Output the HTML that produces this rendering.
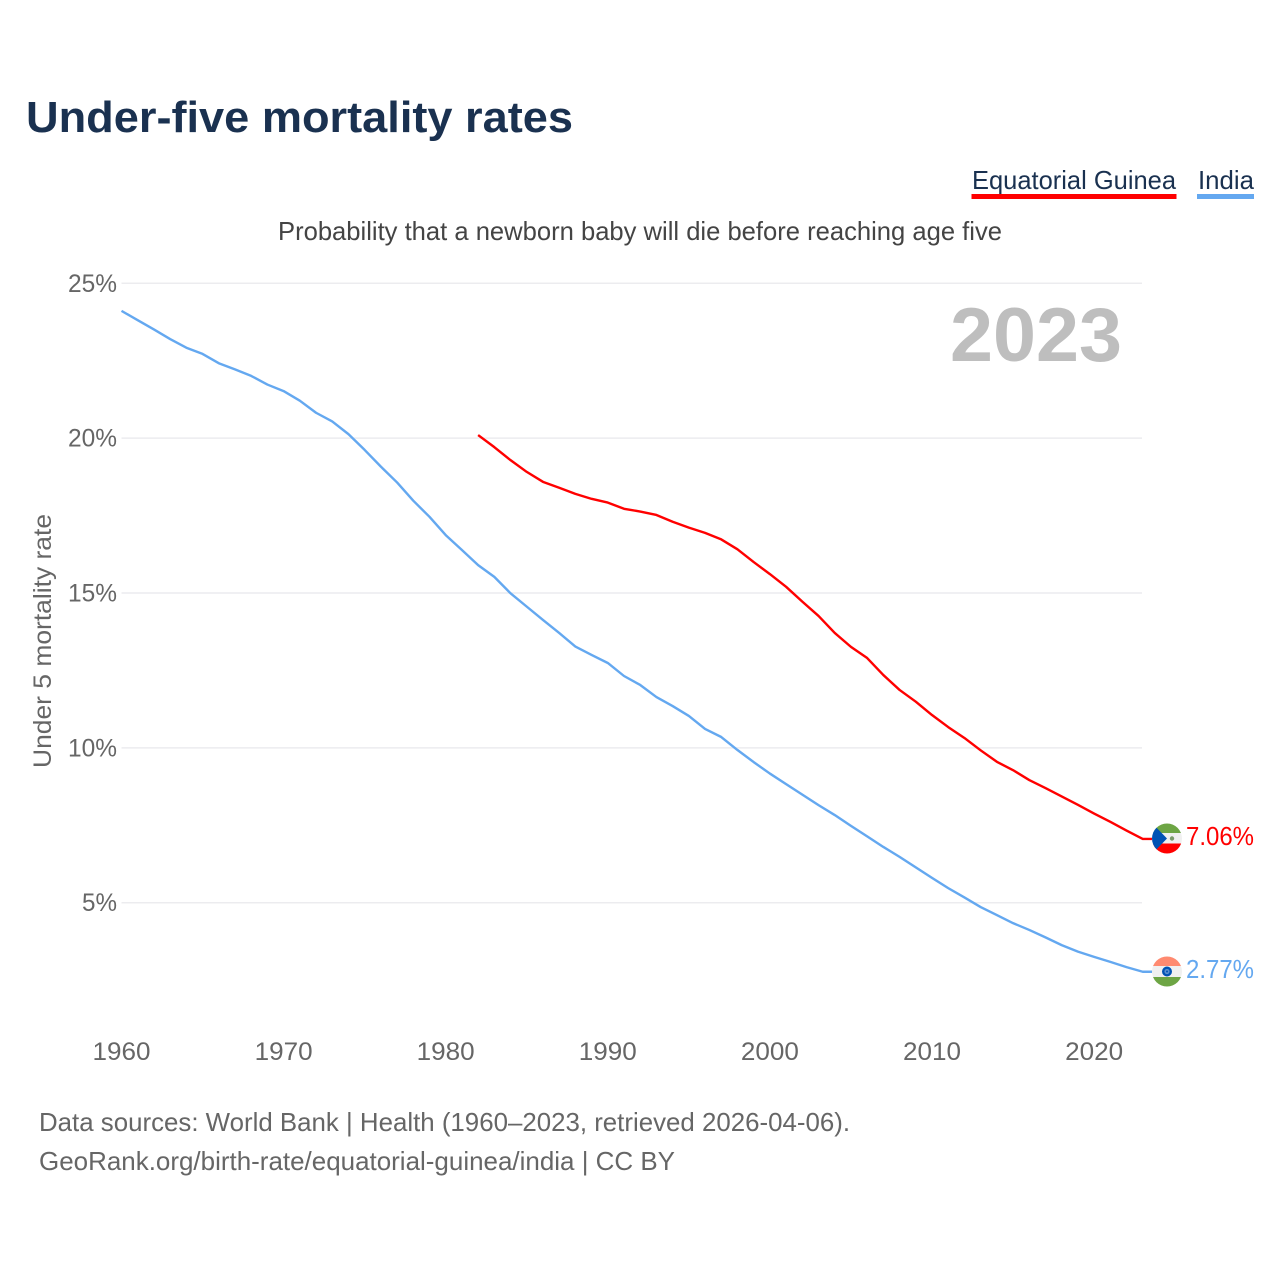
<!DOCTYPE html>
<html lang="en">
<head>
<meta charset="utf-8">
<title>Under-five mortality rates</title>
<style>
html,body{margin:0;padding:0;background:#fff;}
svg{display:block;font-family:"Liberation Sans",sans-serif;}
</style>
</head>
<body>
<svg id="chart" width="1280" height="1280" viewBox="0 0 1280 1280" xmlns="http://www.w3.org/2000/svg">
  <defs>
    <clipPath id="clip-gq"><circle cx="1167" cy="838.5" r="15"/></clipPath>
    <clipPath id="clip-in"><circle cx="1167" cy="971.5" r="15"/></clipPath>
  </defs>
  <rect width="1280" height="1280" fill="#fff"/>
  <text x="26" y="132" font-size="44" font-weight="700" fill="#1a3150" textLength="547" lengthAdjust="spacingAndGlyphs">Under-five mortality rates</text>

  <g>
    <text x="972" y="189" font-size="26" fill="#1a3150" textLength="204" lengthAdjust="spacingAndGlyphs">Equatorial Guinea</text>
    <rect x="971.5" y="194" width="205" height="5" fill="#ff0000"/>
  </g>
  <g>
    <text x="1198" y="189" font-size="26" fill="#1a3150" textLength="56" lengthAdjust="spacingAndGlyphs">India</text>
    <rect x="1197" y="194" width="57" height="5" fill="#64a8f0"/>
  </g>

  <text x="640" y="240" font-size="26" fill="#444" text-anchor="middle" textLength="724" lengthAdjust="spacingAndGlyphs">Probability that a newborn baby will die before reaching age five</text>
  <text x="1122" y="361" font-size="76" font-weight="700" fill="#bebebe" text-anchor="end" textLength="172" lengthAdjust="spacingAndGlyphs">2023</text>
  <text transform="translate(51,641) rotate(-90)" font-size="25" fill="#666" text-anchor="middle" textLength="254" lengthAdjust="spacingAndGlyphs">Under 5 mortality rate</text>

  <g id="grid"></g>
  <g id="yticks"></g>
  <g id="xticks"></g>
  <g id="series"></g>

  <g clip-path="url(#clip-gq)">
    <rect x="1152" y="823" width="30" height="10" fill="#6da544"/>
    <rect x="1152" y="833" width="30" height="10.5" fill="#f0f0f0"/>
    <rect x="1152" y="843.5" width="30" height="11" fill="#ff0000"/>
    <polygon points="1150,821 1150,856 1167,838.5" fill="#0052b4"/>
    <circle cx="1172" cy="838.5" r="2.2" fill="#7a9a6a"/>
  </g>
  <g clip-path="url(#clip-in)">
    <rect x="1152" y="956" width="30" height="10" fill="#ff8a70"/>
    <rect x="1152" y="966" width="30" height="11" fill="#f0f0f0"/>
    <rect x="1152" y="977" width="30" height="10" fill="#6da544"/>
    <circle cx="1167" cy="971.5" r="5" fill="#0052b4"/>
    <circle cx="1167" cy="971.5" r="2.6" fill="#5a8fd0"/>
    <circle cx="1167" cy="971.5" r="1" fill="#0052b4"/>
  </g>

  <g id="endlabels"></g>

  <text x="39" y="1131" font-size="26" fill="#666" textLength="811" lengthAdjust="spacingAndGlyphs">Data sources: World Bank | Health (1960–2023, retrieved 2026-04-06).</text>
  <text x="39" y="1170" font-size="26" fill="#666" textLength="636" lengthAdjust="spacingAndGlyphs">GeoRank.org/birth-rate/equatorial-guinea/india | CC BY</text>
</svg>
<script>
const yTicks = [5, 10, 15, 20, 25];
const xTicks = [1960, 1970, 1980, 1990, 2000, 2010, 2020];
const indiaStartYear = 1960;
const guineaStartYear = 1982;
const indiaValues = [24.11,23.81,23.51,23.2,22.92,22.72,22.42,22.22,22.01,21.73,21.52,21.21,20.82,20.54,20.13,19.62,19.08,18.57,17.98,17.46,16.87,16.39,15.9,15.52,14.99,14.56,14.13,13.71,13.27,13.0,12.74,12.32,12.03,11.64,11.35,11.03,10.61,10.35,9.93,9.54,9.17,8.83,8.49,8.15,7.83,7.48,7.14,6.8,6.48,6.14,5.8,5.47,5.17,4.86,4.6,4.34,4.12,3.88,3.63,3.42,3.25,3.09,2.92,2.77];
const guineaValues = [20.1,19.71,19.29,18.91,18.59,18.4,18.2,18.04,17.92,17.72,17.63,17.52,17.3,17.11,16.94,16.73,16.41,16.0,15.61,15.2,14.72,14.26,13.71,13.26,12.9,12.35,11.87,11.49,11.06,10.67,10.32,9.92,9.55,9.28,8.96,8.7,8.43,8.16,7.88,7.61,7.33,7.06];

const NS = 'http://www.w3.org/2000/svg';
const xScale = function (year) { return 121.5 + (year - 1960) * 16.21; };
const yScale = function (value) { return 283.3 + (25 - value) * 30.97; };

function make(tag, attrs, parent) {
  const el = document.createElementNS(NS, tag);
  Object.keys(attrs).forEach(function (k) { el.setAttribute(k, attrs[k]); });
  parent.appendChild(el);
  return el;
}

const grid = document.getElementById('grid');
const yGroup = document.getElementById('yticks');
const xGroup = document.getElementById('xticks');
const seriesGroup = document.getElementById('series');
const endGroup = document.getElementById('endlabels');

yTicks.forEach(function (t) {
  const line = make('line', {x1: 121.5, x2: 1142, y1: yScale(t), y2: yScale(t), stroke: '#ececef', 'stroke-width': 1.5}, grid);
  
  
  const label = make('text', {x: 117, y: yScale(t) + 8.5, 'font-size': 25, fill: '#666', 'text-anchor': 'end'}, yGroup);
  label.textContent = t + '%';
  label.setAttribute('textLength', t < 10 ? 35 : 49);
  label.setAttribute('lengthAdjust', 'spacingAndGlyphs');
  
  
});

xTicks.forEach(function (t) {
  const label = make('text', {x: xScale(t), y: 1060, 'font-size': 25, fill: '#666', 'text-anchor': 'middle'}, xGroup);
  label.textContent = t;
  label.setAttribute('textLength', 58);
  label.setAttribute('lengthAdjust', 'spacingAndGlyphs');
  
  
});

function drawSeries(values, startYear, color, lineName, labelName) {
  const pts = values.map(function (v, i) { return xScale(startYear + i).toFixed(2) + ',' + yScale(v).toFixed(2); });
  const last = values[values.length - 1];
  const lastY = yScale(last);
  pts.push('1152,' + lastY.toFixed(2));
  const path = make('polyline', {points: pts.join(' '), fill: 'none', stroke: color, 'stroke-width': 2.4, 'stroke-linejoin': 'round'}, seriesGroup);
  
  
  const label = make('text', {x: 1186, y: lastY + 6, 'font-size': 26, fill: color}, endGroup);
  label.textContent = last.toFixed(2) + '%';
  label.setAttribute('textLength', 68);
  label.setAttribute('lengthAdjust', 'spacingAndGlyphs');
  
  
}

drawSeries(indiaValues, indiaStartYear, '#64a8f0', 'line-india', 'end-label-india');
drawSeries(guineaValues, guineaStartYear, '#ff0000', 'line-equatorial-guinea', 'end-label-equatorial-guinea');
</script>
</body>
</html>
